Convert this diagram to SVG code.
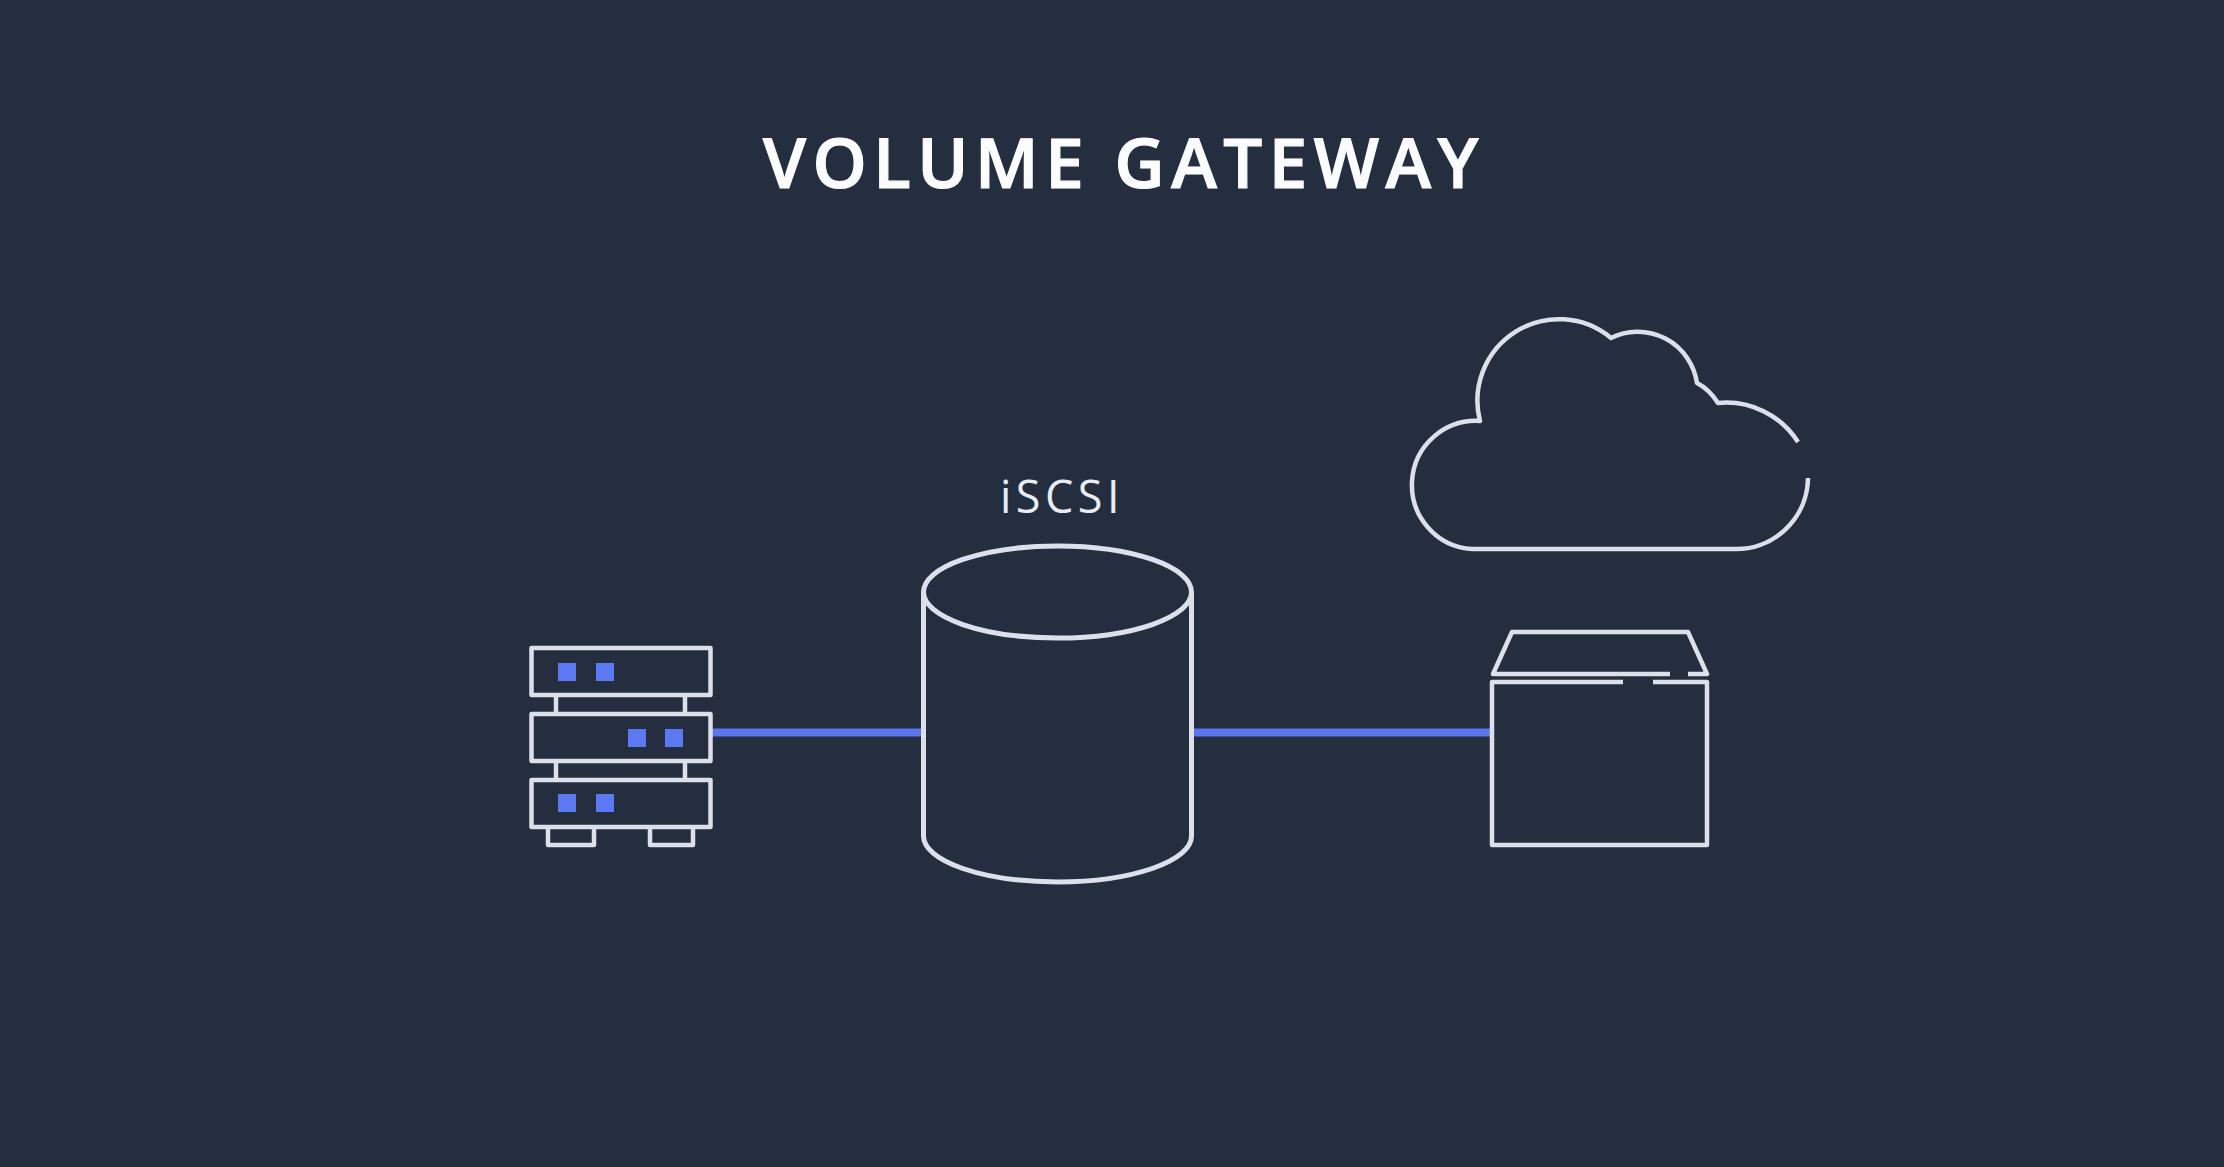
<svg xmlns="http://www.w3.org/2000/svg" width="2224" height="1167" viewBox="0 0 2224 1167">
<style>
.o{fill:none;stroke:#dbe0ea;stroke-width:4.500;stroke-linejoin:round;stroke-linecap:butt}
.b{fill:#5c78f2}
.c{stroke:#5a75ee;stroke-width:8;fill:none}
text{font-family:"Open Sans","Noto Sans","Liberation Sans",sans-serif}
</style>
<rect width="2224" height="1167" fill="#252e3e"/>
<g id="title"><text x="1124" y="188" text-anchor="middle" font-size="69" font-weight="600" letter-spacing="6.500" fill="#fbfcfd" stroke="#fbfcfd" stroke-width="1.200">VOLUME GATEWAY</text></g>
<g id="connectors">
<path class="c" d="M711 732.500H922"/>
<path class="c" d="M1192 732.500H1491"/>
</g>
<g id="server">
<rect class="o" x="531.500" y="648" width="179" height="47"/>
<rect class="o" x="531.500" y="714" width="179" height="47"/>
<rect class="o" x="531.500" y="780" width="179" height="47"/>
<path class="o" d="M556 695V714M685 695V714M556 761V780M685 761V780"/>
<path class="o" d="M548 827V845H594V827M650 827V845H693V827"/>
<rect class="b" x="558" y="663" width="18" height="18"/>
<rect class="b" x="596" y="663" width="18" height="18"/>
<rect class="b" x="628" y="729" width="18" height="18"/>
<rect class="b" x="665" y="729" width="18" height="18"/>
<rect class="b" x="558" y="794" width="18" height="18"/>
<rect class="b" x="596" y="794" width="18" height="18"/>
</g>
<g id="iscsi">
<text x="1062" y="513" text-anchor="middle" font-size="45" letter-spacing="4.500" fill="#e8edf5">iSCSI</text>
<ellipse class="o" cx="1057.500" cy="592" rx="134" ry="46" style="stroke-width:5"/>
<path class="o" d="M923.500 592V836A134 46 0 0 0 1191.500 836V592" style="stroke-width:5"/>
</g>
<g id="cloud">
<path class="o" d="M1808 478A72 72 0 0 1 1733 549H1472A64 64 0 0 1 1480 421A81.500 81.500 0 0 1 1611 338A60 60 0 0 1 1697 383Q1709 389 1718 403A85 85 0 0 1 1798 442"/>
</g>
<g id="box">
<path class="o" d="M1670 674H1493L1512 632H1688L1707 674H1688"/>
<path class="o" d="M1623 682H1492V845H1707V682H1653"/>
</g>
</svg>
